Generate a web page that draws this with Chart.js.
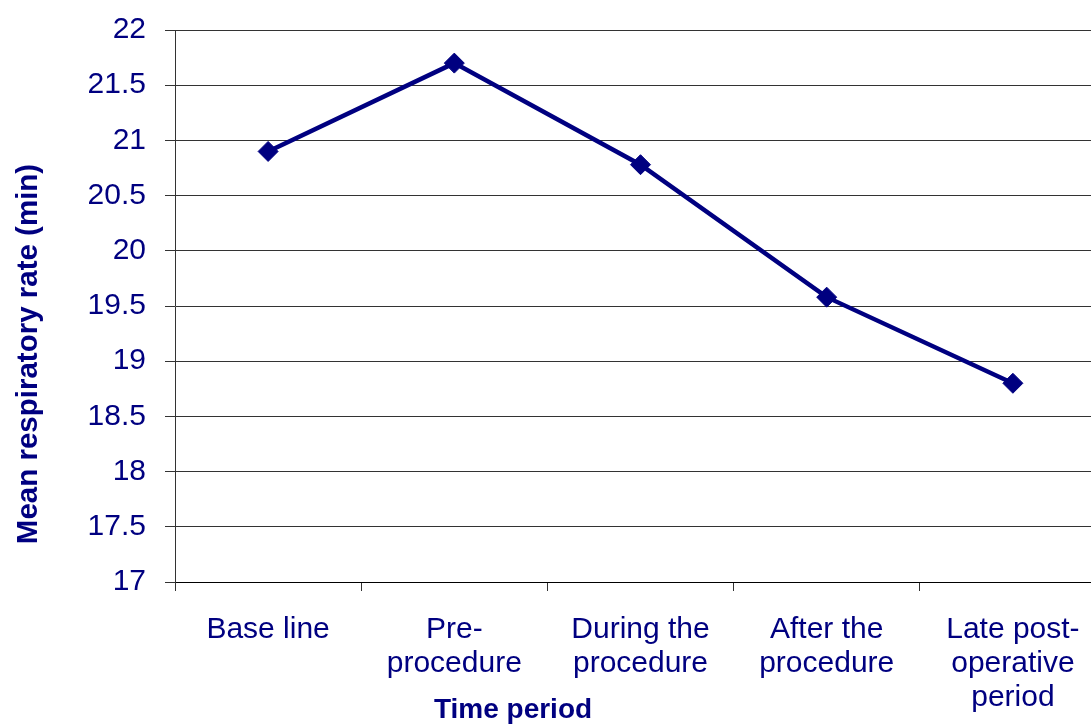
<!DOCTYPE html>
<html>
<head>
<meta charset="utf-8">
<script src="https://cdn.jsdelivr.net/npm/chart.js@4"></script>
<style>
  html, body { margin: 0; padding: 0; background: #fff; overflow: hidden; }
  #wrap { width: 1117px; height: 724px; position: relative; }
</style>
</head>
<body>
<div id="wrap"><canvas id="respChart"></canvas></div>
<script>
const periodos = [
    'Base line',
    ['Pre-', 'procedure'],
    ['During the', 'procedure'],
    ['After the', 'procedure'],
    ['Late post-', 'operative', 'period']
];
const taxaMedia = [20.9, 21.7, 20.78, 19.58, 18.8];
const yTicks = [17, 17.5, 18, 18.5, 19, 19.5, 20, 20.5, 21, 21.5, 22];

const azul = '#000080';
const fonte = 'Arial, "Liberation Sans", sans-serif';

// titulos dos eixos desenhados a mao, para ficar no mesmo lugar do original
const titulosEixos = {
    id: 'titulosEixos',
    afterDraw(chart) {
        const ctx = chart.ctx;
        ctx.save();
        ctx.fillStyle = azul;
        ctx.textAlign = 'center';
        ctx.textBaseline = 'middle';
        ctx.font = `bold 28px ${fonte}`;
        ctx.fillText('Time period', 513, 710);
        ctx.font = `bold 29.5px ${fonte}`;
        ctx.translate(29, 354);
        ctx.rotate(-Math.PI / 2);
        ctx.fillText('Mean respiratory rate (min)', 0, 0);
        ctx.restore();
    }
};

const ctx = document.getElementById('respChart').getContext('2d');
window.respChart = new Chart(ctx, {
    type: 'line',
    data: {
        labels: periodos,
        datasets: [{
            label: 'Mean respiratory rate',
            data: taxaMedia,
            borderColor: azul,
            backgroundColor: azul,
            borderWidth: 4.5,
            pointStyle: 'rectRot',
            pointRadius: 10,
            pointBorderWidth: 1,
            pointBackgroundColor: azul,
            pointBorderColor: azul,
            fill: false,
            tension: 0
        }]
    },
    options: {
        responsive: true,
        maintainAspectRatio: false,
        animation: false,
        layout: { padding: { top: 30, left: 0, right: 0, bottom: 0 } },
        plugins: {
            legend: { display: false },
            tooltip: { enabled: false }
        },
        scales: {
            x: {
                offset: true,
                afterFit: s => { s.height = 142; },
                grid: {
                    offset: true,
                    drawOnChartArea: false,
                    tickLength: 9,
                    color: '#333',
                    lineWidth: 1
                },
                border: { color: '#000', width: 1 },
                ticks: {
                    color: azul,
                    font: { family: fonte, size: 30, lineHeight: 1.13 },
                    padding: 22,
                    maxRotation: 0,
                    autoSkip: false
                }
            },
            y: {
                min: yTicks[0],
                max: yTicks[yTicks.length - 1],
                afterFit: s => {
                    s.width = 175;
                    s.paddingTop = 0; // sem folga extra em cima
                    s.paddingBottom = 0;
                },
                afterBuildTicks: s => { s.ticks = yTicks.map(v => ({ value: v })); },
                grid: {
                    color: '#333',
                    lineWidth: 1,
                    tickLength: 10
                },
                border: { color: '#333', width: 1 },
                ticks: {
                    color: azul,
                    font: { family: fonte, size: 30 },
                    padding: 19,
                    callback: v => String(v)
                }
            }
        }
    },
    plugins: [titulosEixos]
});
</script>
</body>
</html>
